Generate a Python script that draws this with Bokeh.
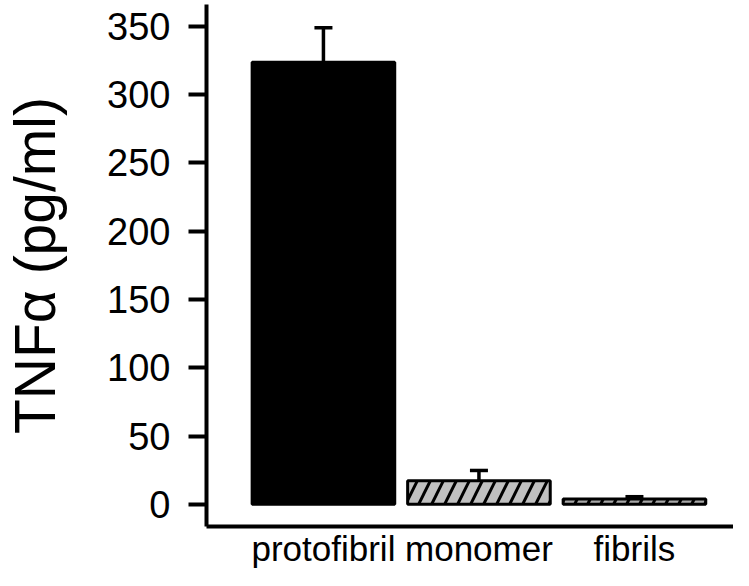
from bokeh.plotting import figure
from bokeh.models import Range1d, FixedTicker, ColumnDataSource, Whisker, TeeHead
from bokeh.embed import file_html
from bokeh.resources import INLINE

# ---- data ----
categories = ["protofibril", "monomer", "fibrils"]
means = [323.5, 17.2, 4.0]
errors = [25.3, 7.6, 1.6]
y_ticks = [0, 50, 100, 150, 200, 250, 300, 350]

# ---- styles ----
fill_colors = ["black", "#c0c0c0", "#a8a8a8"]
hatches = [" ", "/", "/"]

xs = list(range(len(categories)))
src = ColumnDataSource(dict(
    x=xs, top=means, upper=[m + e for m, e in zip(means, errors)],
    fill=fill_colors, hatch=hatches, cat=categories,
))

FONT = "Liberation Sans"
Y0, Y1 = -16.2, 365.8

p = figure(width=733, height=570, output_backend="svg", toolbar_location=None,
           x_range=Range1d(-0.752, 2.637), y_range=Range1d(Y0, Y1),
           min_border_left=201, min_border_right=0, min_border_top=4,
           min_border_bottom=0)
p.background_fill_color = "white"
p.border_fill_color = "white"
p.outline_line_color = None
p.xgrid.grid_line_color = None
p.ygrid.grid_line_color = None

p.vbar(x="x", top="top", bottom=0, width=0.917, source=src,
       fill_color="fill", line_color="black", line_width=3,
       hatch_pattern="hatch", hatch_color="black", hatch_weight=3,
       hatch_scale=26)

whisk = Whisker(base="x", upper="upper", lower="top", source=src,
                dimension="height", line_width=3.5, line_color="black",
                upper_head=TeeHead(size=18, line_width=3.5, line_color="black"),
                lower_head=None)
p.add_layout(whisk)

# x axis
p.xaxis.ticker = FixedTicker(ticks=xs)
p.xaxis.major_label_overrides = {i: c for i, c in zip(xs, categories)}
p.xaxis.major_tick_line_color = None
p.xaxis.major_tick_out = 0
p.xaxis.major_tick_in = 0
p.xaxis.minor_tick_line_color = None
p.xaxis.axis_line_width = 4
p.xaxis.major_label_text_font = FONT
p.xaxis.major_label_text_font_size = "35px"
p.xaxis.major_label_text_line_height = 0.9
p.xaxis.major_label_text_color = "black"
p.xaxis.major_label_standoff = 2

# y axis
p.yaxis.ticker = FixedTicker(ticks=y_ticks)
p.yaxis.major_tick_out = 18
p.yaxis.major_tick_in = 0
p.yaxis.major_tick_line_width = 4
p.yaxis.minor_tick_line_color = None
p.yaxis.axis_line_width = 4
p.yaxis.major_label_text_font = FONT
p.yaxis.major_label_text_font_size = "38px"
p.yaxis.major_label_text_color = "black"
p.yaxis.major_label_standoff = 18
p.yaxis.axis_label = "TNFα (pg/ml)"
p.yaxis.axis_label_text_font = FONT
p.yaxis.axis_label_text_font_size = "57px"
p.yaxis.axis_label_text_font_style = "normal"
p.yaxis.axis_label_text_color = "black"
p.yaxis.axis_label_standoff = 37

open("out.html", "w").write(file_html(p, INLINE))
